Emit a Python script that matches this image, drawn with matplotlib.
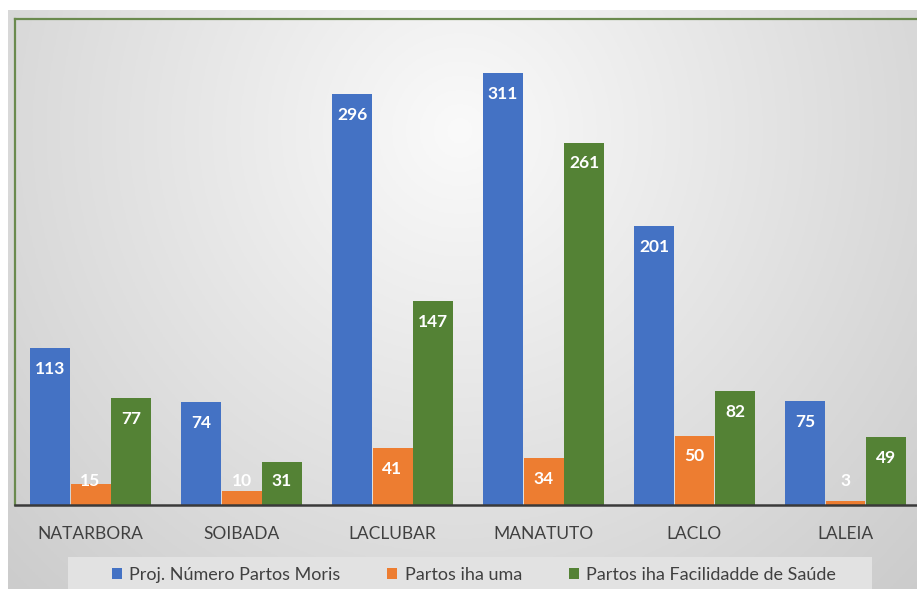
import numpy as np
import matplotlib.pyplot as plt
from matplotlib.patches import Rectangle, Patch

categories = ["NATARBORA", "SOIBADA", "LACLUBAR", "MANATUTO", "LACLO", "LALEIA"]
proj_moris = [113, 74, 296, 311, 201, 75]
partos_uma = [15, 10, 41, 34, 50, 3]
partos_facilidade = [77, 31, 147, 261, 82, 49]
series_names = ["Proj. Número Partos Moris", "Partos iha uma",
                "Partos iha Facilidadde de Saúde"]
colors = ["#4472C4", "#ED7D31", "#548235"]

plt.rcParams['font.family'] = ['Lato', 'DejaVu Sans']

W, H = 917, 589
fig = plt.figure(figsize=(W / 100, H / 100), dpi=100)
fig.patch.set_facecolor("white")

# radial grey background
bg = fig.add_axes([8 / W, 0, 1 - 8 / W, (H - 10) / H], zorder=-2)
xx, yy = np.meshgrid(np.linspace(8, W, 300), np.linspace(10, H, 200))
r = np.sqrt(((xx - 460) / 460) ** 2 + ((yy - 130) / 470) ** 2)
shade = np.clip(0.98 - 0.13 * r, 0, 1)
bg.imshow(np.dstack([shade] * 3), aspect="auto", extent=[0, 1, 0, 1])
bg.axis("off")

# legend background box
fig.patches.append(Rectangle((68 / W, 0), (872 - 68) / W, (H - 557) / H,
                             transform=fig.transFigure, facecolor="#e2e2e2",
                             edgecolor="none", zorder=-1))

ax = fig.add_axes([15 / W, (H - 505) / H, 920 / W, (505 - 19) / H])
ax.set_facecolor("none")
ax.set_xlim(-0.5, -0.5 + 920 / 151)
ax.set_ylim(0, 350)

x = np.arange(len(categories))
bw = 40 / 151
offsets = [-40.5 / 151, 0, 40.5 / 151]
for vals, off, c in zip([proj_moris, partos_uma, partos_facilidade], offsets, colors):
    ax.bar(x + off, vals, width=bw, color=c, zorder=2)
    for xi, v in zip(x, vals):
        ax.text(xi + off, max(v - 15, 17.3), str(v), ha="center", va="center",
                color="white", fontsize=12.5, fontweight="bold", zorder=3)

ax.set_xticks(x)
ax.set_xticklabels(categories, fontsize=12.5, color="#404040")
ax.tick_params(axis="x", length=0, pad=15)
ax.set_yticks([])
ax.spines["right"].set_visible(False)
ax.spines["top"].set_color("#6a8a4e")
ax.spines["left"].set_color("#6a8a4e")
ax.spines["top"].set_linewidth(1.6)
ax.spines["left"].set_linewidth(1.6)
ax.spines["bottom"].set_color("#3a3a3a")
ax.spines["bottom"].set_linewidth(1.8)

handles = [Patch(facecolor=c, edgecolor="none") for c in colors]
fig.legend(handles, series_names, loc="center", bbox_to_anchor=(474 / W, (H - 575) / H),
           ncol=3, frameon=False, fontsize=13, labelcolor="#404040",
           handlelength=0.55, handleheight=0.55, handletextpad=0.4,
           columnspacing=2.6)

fig.savefig("out.png", dpi=100)
